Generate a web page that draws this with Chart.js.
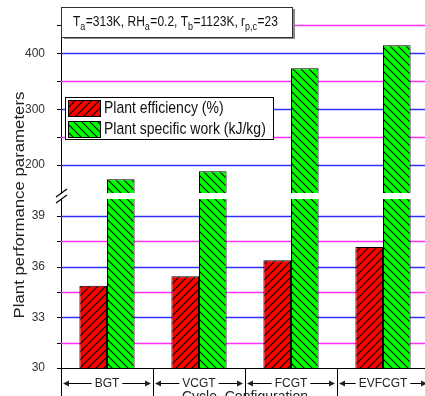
<!DOCTYPE html>
<html>
<head>
<meta charset="utf-8">
<script src="https://cdn.jsdelivr.net/npm/chart.js@4.4.1/dist/chart.umd.min.js"></script>
<style>
  html, body { margin: 0; padding: 0; background: #fff; overflow: hidden; }
  #wrap { position: relative; width: 432px; height: 396px; }
</style>
</head>
<body>
<div id="wrap"><canvas id="perfChart"></canvas></div>
<script>
// values
const cycles = ['BGT', 'VCGT', 'FCGT', 'EVFCGT'];
const efficiency = [34.87, 35.43, 36.37, 37.16];      // Plant efficiency (%)
const specificWork = [174.6, 188.9, 373.3, 414.5];    // Plant specific work (kJ/kg)
const lowTicks = [30, 33, 36, 39];
const lowMinor = [31.5, 34.5, 37.5];
const highTicks = [200, 300, 400];
const highMinor = [250, 350, 450];
const seriesNames = ['Plant efficiency (%)', 'Plant specific work (kJ/kg)'];
const conditions = [['T', 0], ['a', 1], ['=313K, RH', 0], ['a', 1], ['=0.2, T', 0], ['b', 1], ['=1123K, r', 0], ['p,c', 1], ['=23', 0]];

// broken axis ranges
const LOW_MIN = 30, LOW_MAX = 40;
const HIGH_MIN = 150, HIGH_MAX = 483;

const BLUE = '#3030ff';
const PINK = '#ff30ff';
const FONT = "'Liberation Sans', Arial, sans-serif";

Chart.defaults.font.family = FONT;
Chart.defaults.color = '#333';

// diagonal hatch fill, dir 1 = '/', -1 = '\'
function hatch(color, dir) {
    const s = 8;
    const c = document.createElement('canvas');
    c.width = s; c.height = s;
    const g = c.getContext('2d');
    g.fillStyle = color;
    g.fillRect(0, 0, s, s);
    g.strokeStyle = '#000';
    g.lineWidth = 1.1;
    g.beginPath();
    if (dir > 0) {
        g.moveTo(-1, s + 1); g.lineTo(s + 1, -1);
        g.moveTo(-1, 1); g.lineTo(1, -1);
        g.moveTo(s - 1, s + 1); g.lineTo(s + 1, s - 1);
    } else {
        g.moveTo(-1, -1); g.lineTo(s + 1, s + 1);
        g.moveTo(-1, s - 1); g.lineTo(1, s + 1);
        g.moveTo(s - 1, -1); g.lineTo(s + 1, 1);
    }
    g.stroke();
    return document.createElement('canvas').getContext('2d').createPattern(c, 'repeat');
}

const redFill = hatch('#ff0000', 1);
const greenFill = hatch('#00ff00', -1);

function arrowHead(ctx, x, y, dir) {
    ctx.beginPath();
    ctx.moveTo(x, y);
    ctx.lineTo(x - dir * 6, y - 3);
    ctx.lineTo(x - dir * 6, y + 3);
    ctx.closePath();
    ctx.fill();
}

// text drawn a little taller than wide, like the original export
function tallText(ctx, t, x, y, k) {
    ctx.save();
    ctx.translate(x, y);
    ctx.scale(1, k);
    ctx.fillText(t, 0, 0);
    ctx.restore();
}

// fixed axis boxes, no label overhang padding
function fixY(s) {
    s.width = 61;
    s.paddingTop = 0;
    s.paddingBottom = 0;
}

// blue major / magenta minor grid lines and outward tick marks
const gridLines = {
    id: 'gridLines',
    beforeDatasetsDraw(chart) {
        const { ctx, chartArea, scales } = chart;
        const sets = [
            [scales.yHigh, highTicks, highMinor],
            [scales.yLow, lowTicks, lowMinor]
        ];
        ctx.save();
        sets.forEach(([scale, major, minor]) => {
            major.concat(minor).forEach(v => {
                const y = Math.round(scale.getPixelForValue(v)) + 0.5;
                if (v !== LOW_MIN) {
                    ctx.lineWidth = 1.6;
                    ctx.strokeStyle = major.includes(v) ? BLUE : PINK;
                    ctx.beginPath();
                    ctx.moveTo(chartArea.left, y);
                    ctx.lineTo(chartArea.right, y);
                    ctx.stroke();
                }
                ctx.lineWidth = 1;
                ctx.strokeStyle = '#000';
                ctx.beginPath();
                ctx.moveTo(chartArea.left - 4, y);
                ctx.lineTo(chartArea.left, y);
                ctx.stroke();
            });
        });
        ctx.restore();
    }
};

const decor = {
    id: 'decor',
    afterDraw(chart) {
        const { ctx, chartArea, scales } = chart;
        const x = scales.x;
        const left = chartArea.left;
        ctx.save();

        // break marks on the y axis
        const mid = (scales.yHigh.bottom + scales.yLow.top) / 2;
        ctx.strokeStyle = '#000';
        ctx.lineWidth = 1.2;
        [-3, 3].forEach(d => {
            ctx.beginPath();
            ctx.moveTo(left - 5, mid + d + 4);
            ctx.lineTo(left + 6, mid + d - 4);
            ctx.stroke();
        });

        // category labels with span arrows
        ctx.lineWidth = 1;
        ctx.fillStyle = '#222';
        ctx.font = '12px ' + FONT;
        ctx.textAlign = 'center';
        ctx.textBaseline = 'middle';
        const half = (x.getPixelForValue(1) - x.getPixelForValue(0)) / 2;
        const ly = chartArea.bottom + 15;
        cycles.forEach((c, i) => {
            const cx = x.getPixelForValue(i);
            const l = cx - half, r = cx + half;
            const tw = ctx.measureText(c).width;
            ctx.beginPath();
            ctx.moveTo(Math.round(l) + 0.5, chartArea.bottom);
            ctx.lineTo(Math.round(l) + 0.5, chart.height);
            ctx.moveTo(Math.round(r) + 0.5, chartArea.bottom);
            ctx.lineTo(Math.round(r) + 0.5, chart.height);
            ctx.moveTo(l + 3, ly + 0.5);
            ctx.lineTo(cx - tw / 2 - 3, ly + 0.5);
            ctx.moveTo(cx + tw / 2 + 3, ly + 0.5);
            ctx.lineTo(r - 3, ly + 0.5);
            ctx.stroke();
            arrowHead(ctx, l + 2, ly + 0.5, -1);
            arrowHead(ctx, r - 2, ly + 0.5, 1);
            tallText(ctx, c, cx, ly, 1.1);
        });

        // x axis title (cut at the bottom edge)
        ctx.font = '14px ' + FONT;
        ctx.textBaseline = 'top';
        tallText(ctx, 'Cycle  Configuration', (x.getPixelForValue(1) + x.getPixelForValue(2)) / 2, chartArea.bottom + 21, 1.1);

        // y axis title
        ctx.save();
        ctx.translate(20, 205);
        ctx.rotate(-Math.PI / 2);
        ctx.font = '15px ' + FONT;
        ctx.textBaseline = 'middle';
        ctx.scale(1.12, 1);
        ctx.fillText('Plant performance parameters', 0, 0);
        ctx.restore();

        // conditions box
        ctx.fillStyle = '#888';
        ctx.fillRect(64, 9, 231, 30);
        ctx.fillStyle = '#fff';
        ctx.fillRect(62, 7, 231, 30);
        ctx.strokeStyle = '#333';
        ctx.strokeRect(61.5, 7.5, 231, 30);
        ctx.fillStyle = '#111';
        ctx.textAlign = 'left';
        ctx.textBaseline = 'alphabetic';
        let tx = 73;
        conditions.forEach(([t, sub]) => {
            ctx.font = (sub ? '9px ' : '12px ') + FONT;
            tallText(ctx, t, tx, sub ? 29.5 : 26, 1.15);
            tx += ctx.measureText(t).width + (sub ? 0.5 : 0);
        });

        // legend
        ctx.fillStyle = '#fff';
        ctx.fillRect(65, 97, 208, 42);
        ctx.strokeStyle = '#000';
        ctx.strokeRect(65.5, 97.5, 208, 42);
        [redFill, greenFill].forEach((f, i) => {
            const sy = 100 + i * 21;
            ctx.fillStyle = f;
            ctx.fillRect(68, sy, 32, 16);
            ctx.strokeRect(68.5, sy + 0.5, 32, 16);
            ctx.fillStyle = '#111';
            ctx.font = '14px ' + FONT;
            ctx.textBaseline = 'middle';
            tallText(ctx, seriesNames[i], 104, sy + 9, 1.12);
        });

        ctx.restore();
    }
};

const ctx = document.getElementById('perfChart').getContext('2d');
const perfChart = new Chart(ctx, {
    type: 'bar',
    data: {
        labels: cycles,
        datasets: [{
            label: seriesNames[0],
            data: efficiency,
            yAxisID: 'yLow',
            stack: 'eff',
            backgroundColor: redFill,
            borderColor: '#000',
            borderWidth: { top: 1, left: 1, right: 1, bottom: 0 }
        }, {
            label: seriesNames[1],
            data: specificWork.map(v => Math.min(v, LOW_MAX)),
            yAxisID: 'yLow',
            stack: 'work',
            backgroundColor: greenFill,
            borderColor: '#000',
            borderWidth: { top: 0, left: 1, right: 1, bottom: 0 }
        }, {
            label: seriesNames[1],
            data: specificWork,
            yAxisID: 'yHigh',
            stack: 'work',
            backgroundColor: greenFill,
            borderColor: '#000',
            borderWidth: { top: 1, left: 1, right: 1, bottom: 0 }
        }]
    },
    options: {
        responsive: true,
        maintainAspectRatio: false,
        animation: false,
        categoryPercentage: 0.6,
        barPercentage: 1.0,
        layout: { padding: { left: 0, top: 7, right: 3, bottom: 0 } },
        plugins: {
            legend: { display: false },
            tooltip: { enabled: false }
        },
        scales: {
            x: {
                stacked: true,
                grid: { display: false },
                border: { display: true, color: '#000', width: 1 },
                ticks: { display: false },
                afterFit: s => { s.height = 28; s.paddingLeft = 0; s.paddingRight = 0; }
            },
            yHigh: {
                type: 'linear',
                position: 'left',
                stack: 'v',
                stackWeight: 186,
                weight: 30,
                stacked: false,
                min: HIGH_MIN,
                max: HIGH_MAX,
                border: { display: true, color: '#000', width: 1 },
                grid: { display: false },
                ticks: {
                    stepSize: 50,
                    autoSkip: false,
                    includeBounds: false,
                    padding: 8,
                    font: { size: 12 },
                    callback: v => highTicks.includes(v) ? String(v) : ''
                },
                afterFit: fixY
            },
            yGap: {
                type: 'linear',
                position: 'left',
                stack: 'v',
                stackWeight: 6,
                weight: 20,
                display: false
            },
            yLow: {
                type: 'linear',
                position: 'left',
                stack: 'v',
                stackWeight: 169,
                weight: 10,
                stacked: false,
                min: LOW_MIN,
                max: LOW_MAX,
                border: { display: true, color: '#000', width: 1 },
                grid: { display: false },
                ticks: {
                    stepSize: 1.5,
                    autoSkip: false,
                    includeBounds: false,
                    padding: 8,
                    font: { size: 12 },
                    callback: v => lowTicks.includes(v) ? String(v) : ''
                },
                afterFit: fixY
            }
        }
    },
    plugins: [gridLines, decor]
});
</script>
</body>
</html>
